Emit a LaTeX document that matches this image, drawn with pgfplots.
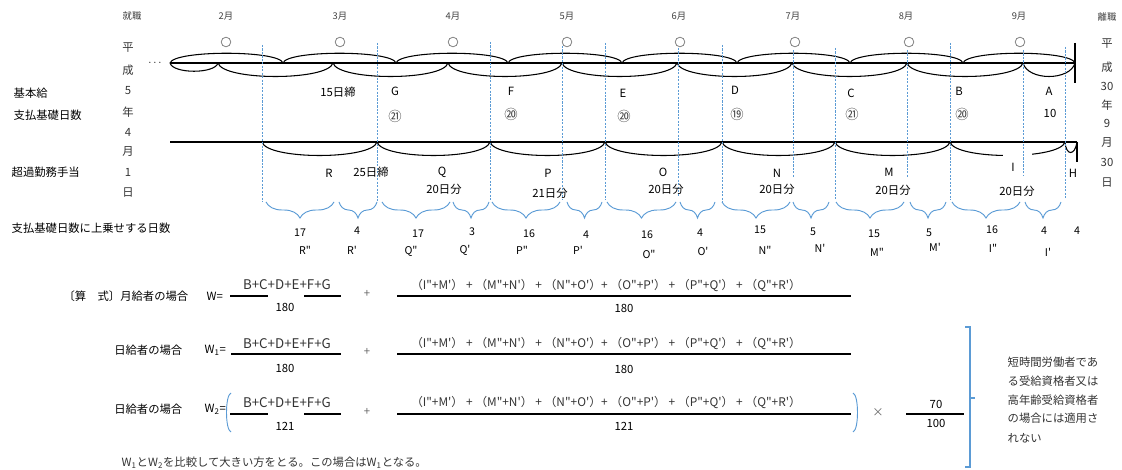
\documentclass[border=0pt]{standalone}
\usepackage{pgfplots}
\pgfplotsset{compat=1.18}
\usepackage{fontspec}
\newfontfamily\jp{Noto Sans CJK JP}
\usetikzlibrary{decorations.pathreplacing}
\definecolor{obl}{RGB}{91,155,213}
\definecolor{txt}{RGB}{30,30,30}
\begin{document}
\begin{tikzpicture}[font=\jp\fontsize{8.5}{10}\selectfont]
\begin{axis}[
  width=841.5pt, height=352.5pt, scale only axis,
  xmin=0, xmax=1122, ymin=0, ymax=470, y dir=reverse,
  hide axis, clip=false,
  every node/.append style={text=txt, inner sep=0pt},
]
% --- main lines
\addplot[black, line width=1pt] coordinates {(170,63) (1075,63)};
\addplot[black, line width=1pt] coordinates {(170,142) (1077,142)};
\addplot[black, line width=2.2pt] coordinates {(1075,43) (1075,83)};
\addplot[black, line width=2.2pt] coordinates {(1077,142) (1077,162)};
% --- upper arcs (months)
\draw[line width=0.8pt] (170,63) .. controls (174,50) and (279,50) .. (283,63);
\draw[line width=0.8pt] (283,63) .. controls (287,50) and (392,50) .. (396,63);
\draw[line width=0.8pt] (396,63) .. controls (400,50) and (504,50) .. (508,63);
\draw[line width=0.8pt] (508,63) .. controls (512,50) and (618,50) .. (622,63);
\draw[line width=0.8pt] (622,63) .. controls (626,50) and (733,50) .. (737,63);
\draw[line width=0.8pt] (737,63) .. controls (741,50) and (846,50) .. (850,63);
\draw[line width=0.8pt] (850,63) .. controls (854,50) and (959,50) .. (963,63);
\draw[line width=0.8pt] (963,63) .. controls (967,50) and (1071,50) .. (1075,63);
% --- lower arcs (15th closing)
\draw[line width=0.8pt] (170,63) .. controls (173,74) and (215,74) .. (218,63);
\draw[line width=0.8pt] (218,63) .. controls (223,81) and (328,81) .. (333,63);
\draw[line width=0.8pt] (333,63) .. controls (338,81) and (443,81) .. (448,63);
\draw[line width=0.8pt] (448,63) .. controls (453,81) and (557,81) .. (562,63);
\draw[line width=0.8pt] (562,63) .. controls (567,81) and (672,81) .. (677,63);
\draw[line width=0.8pt] (677,63) .. controls (682,81) and (787,81) .. (792,63);
\draw[line width=0.8pt] (792,63) .. controls (797,81) and (902,81) .. (907,63);
\draw[line width=0.8pt] (907,63) .. controls (912,81) and (1018,81) .. (1023,63);
\draw[line width=0.8pt] (1023,63) .. controls (1028,81) and (1070,81) .. (1075,63);
% --- overtime arcs (25th closing)
\draw[line width=0.8pt] (262,142) .. controls (267,160) and (372,160) .. (377,142);
\draw[line width=0.8pt] (377,142) .. controls (382,160) and (485,160) .. (490,142);
\draw[line width=0.8pt] (490,142) .. controls (495,160) and (600,160) .. (605,142);
\draw[line width=0.8pt] (605,142) .. controls (610,160) and (717,160) .. (722,142);
\draw[line width=0.8pt] (722,142) .. controls (727,160) and (830,160) .. (835,142);
\draw[line width=0.8pt] (835,142) .. controls (840,160) and (945,160) .. (950,142);
\draw[line width=0.8pt] (950,142) .. controls (955,160) and (1060,160) .. (1065,142);
\draw[line width=0.8pt] (1065,142) .. controls (1066,156) and (1075,156) .. (1077,142);
\fill[white] (1003,149) rectangle (1032,163);
% --- blue dashed guide lines
\addplot[obl, line width=0.5pt, dash pattern=on 1.6pt off 1pt, unbounded coords=jump] coordinates {
 (262,45) (262,202) (262,nan)
 (377,43) (377,202) (377,nan)
 (490,42) (490,200) (490,nan)
 (562,46) (562,200) (562,nan)
 (605,43) (605,200) (605,nan)
 (678,48) (678,197) (678,nan)
 (722,45) (722,203) (722,nan)
 (793,50) (793,177) (793,nan)
 (835,48) (835,200) (835,nan)
 (907,50) (907,177) (907,nan)
 (950,43) (950,200) (950,nan)
 (1023,50) (1023,175) (1023,nan)
 (1065,47) (1065,198)
};
% --- circles
\addplot[only marks, mark=o, mark size=3.6pt, gray, mark options={line width=0.6pt}] coordinates {
 (226,42) (340,42) (453,42) (567,42) (680,42) (795,42) (909,42) (1020,42)};
% --- top labels
\begin{scope}[every node/.append style={font=\jp\fontsize{7}{8}\selectfont, text=black!75}]
\node at (132,16) {就職};
\node at (226,16) {2月};
\node at (340,16) {3月};
\node at (453,16) {4月};
\node at (567,16) {5月};
\node at (679,16) {6月};
\node at (793,16) {7月};
\node at (906,16) {8月};
\node at (1019,16) {9月};
\node at (1107,17) {離職};
\end{scope}
\node at (155,63) {$\cdots$};
% --- vertical dates
\begin{scope}[every node/.append style={font=\jp\fontsize{8.5}{10}\selectfont, text=black!80}]
\node at (128,48) {平};
\node at (128,70) {成};
\node at (128,91) {5};
\node at (128,112) {年};
\node at (128,132) {4};
\node at (128,152) {月};
\node at (128,172) {1};
\node at (128,193) {日};
\node at (1107,44) {平};
\node at (1107,67) {成};
\node at (1107,86) {30};
\node at (1107,105) {年};
\node at (1107,123) {9};
\node at (1107,143) {月};
\node at (1107,162) {30};
\node at (1107,183) {日};
\end{scope}
% --- left labels
\node[anchor=west] at (9,93) {基本給};
\node[anchor=west] at (9,115) {支払基礎日数};
\node[anchor=west] at (7,172) {超過勤務手当};
\node[anchor=west] at (7,228) {支払基礎日数に上乗せする日数};
% --- labels between lines
\node at (338,92) {15日締};
\node at (395,91) {G};   \node at (511,91) {F};
\node at (623,93) {E};   \node at (735,90) {D};
\node at (851,93) {C};   \node at (959,91) {B};
\node at (1049,91) {A};  \node at (1050,113) {10};
\begin{scope}[every node/.append style={font=\jp\fontsize{10}{12}\selectfont, text=black!75}]
\node at (395,116) {㉑};
\node at (511,114) {⑳};
\node at (624,116) {⑳};
\node at (737,114) {⑲};
\node at (852,114) {㉑};
\node at (962,114) {⑳};
\end{scope}
% --- labels below overtime line
\node at (329,173) {R};  \node at (371,172) {25日締};
\node at (442,172) {Q};  \node at (444,189) {20日分};
\node at (548,173) {P};  \node at (550,193) {21日分};
\node at (663,172) {O};  \node at (666,189) {20日分};
\node at (777,173) {N};  \node at (777,189) {20日分};
\node at (889,172) {M};  \node at (893,190) {20日分};
\node at (1013,167) {I}; \node at (1017,191) {20日分};
\node at (1073,173) {H};
% --- blue braces
\begin{scope}[obl, line width=0.7pt, decoration={brace, mirror, amplitude=12pt}]
\draw[decorate] (266,202) -- (334,202);
\draw[decorate] (339,202) -- (377,202);
\draw[decorate] (382,202) -- (450,202);
\draw[decorate] (453,202) -- (489,202);
\draw[decorate] (492,202) -- (560,202);
\draw[decorate] (567,202) -- (602,202);
\draw[decorate] (607,202) -- (676,202);
\draw[decorate] (680,202) -- (715,202);
\draw[decorate] (722,202) -- (790,202);
\draw[decorate] (793,202) -- (829,202);
\draw[decorate] (836,202) -- (904,202);
\draw[decorate] (910,202) -- (946,202);
\draw[decorate] (952,202) -- (1020,202);
\draw[decorate] (1025,202) -- (1061,202);
\end{scope}
% --- day counts
\begin{scope}[every node/.append style={font=\jp\fontsize{8}{9}\selectfont}]
\node at (300,233) {17}; \node at (357,231) {4};
\node at (418,234) {17}; \node at (472,232) {3};
\node at (529,234) {16}; \node at (586,235) {4};
\node at (647,235) {16}; \node at (700,233) {4};
\node at (760,230) {15}; \node at (813,232) {5};
\node at (874,234) {15}; \node at (929,233) {5};
\node at (992,230) {16}; \node at (1044,231) {4};
\node at (1077,231) {4};
\node at (305,250) {R"};  \node at (352,250) {R'};
\node at (411,251) {Q"};  \node at (465,250) {Q'};
\node at (522,250) {P"};  \node at (578,250) {P'};
\node at (649,254) {O"};  \node at (703,251) {O'};
\node at (765,250) {N"};  \node at (820,248) {N'};
\node at (877,252) {M"};  \node at (935,247) {M'};
\node at (993,248) {I"};  \node at (1048,252) {I'};
\end{scope}
% --- formulas
\node[anchor=east] at (193,296) {〔算　式〕月給者の場合};
\node[anchor=west] at (202,296) {W=};
\node[anchor=east] at (187,350) {日給者の場合};
\node[anchor=west] at (200,350) {W\textsubscript{1}=};
\node[anchor=east] at (187,409) {日給者の場合};
\node[anchor=west] at (200,409) {W\textsubscript{2}=};
% fraction lines
\addplot[black, line width=1.5pt, unbounded coords=jump] coordinates {
 (230,296) (268,296) (268,nan) (304,296) (341,296) (341,nan)
 (397,296) (851,296) (851,nan)
 (231,354) (341,354) (341,nan)
 (397,354) (851,354) (851,nan)
 (230,414) (268,414) (268,nan) (304,414) (341,414) (341,nan)
 (397,414) (851,414) (851,nan)
 (906,414) (964,414)};
\begin{scope}[every node/.append style={text=black!80, font=\jp\fontsize{10}{12}\selectfont}]
\node at (287,285) {B+C+D+E+F+G};
\node at (287,344) {B+C+D+E+F+G};
\node at (287,403) {B+C+D+E+F+G};
\end{scope}
\begin{scope}[every node/.append style={text=black!80, font=\jp\fontsize{8.9}{10}\selectfont}]
\node at (606,286) {（I"+M'）\ +\ （M"+N'）\ +\ （N"+O'）+\ （O"+P'）\ +\ （P"+Q'）\ +\ （Q"+R'）};
\node at (606,344) {（I"+M'）\ +\ （M"+N'）\ +\ （N"+O'）+\ （O"+P'）\ +\ （P"+Q'）\ +\ （Q"+R'）};
\node at (606,403) {（I"+M'）\ +\ （M"+N'）\ +\ （N"+O'）+\ （O"+P'）\ +\ （P"+Q'）\ +\ （Q"+R'）};
\end{scope}
\begin{scope}[every node/.append style={text=black!60}]
\node at (367,294) {+};
\node at (367,352) {+};
\node at (367,412) {+};
\node at (878,413) {×};
\end{scope}
\node at (285,307) {180};
\node at (285,368) {180};
\node at (285,426) {121};
\node at (624,308) {180};
\node at (624,369) {180};
\node at (624,426) {121};
\node at (936,404) {70};
\node at (936,423) {100};
% blue parens and bracket
\draw[obl, line width=0.7pt] (231,393) .. controls (225,395) and (225,430) .. (231,432);
\draw[obl, line width=0.7pt] (853,393) .. controls (859,395) and (859,430) .. (853,432);
\draw[obl, line width=0.8pt] (965,327) -- (970,327) -- (970,467) -- (965,467);
\draw[obl, line width=0.8pt] (970,398) -- (975,398);
% side note
\begin{scope}[every node/.append style={anchor=west, text=black!80}]
\node at (1003,362) {短時間労働者であ};
\node at (1003,381) {る受給資格者又は};
\node at (1003,400) {高年齢受給資格者};
\node at (1003,418) {の場合には適用さ};
\node at (1003,438) {れない};
\node at (117,463) {W\textsubscript{1}とW\textsubscript{2}を比較して大きい方をとる。この場合はW\textsubscript{1}となる。};
\end{scope}
\end{axis}
\pgfresetboundingbox
\path[use as bounding box] (0,0) rectangle (841.5pt,352.5pt);
\end{tikzpicture}
\end{document}
